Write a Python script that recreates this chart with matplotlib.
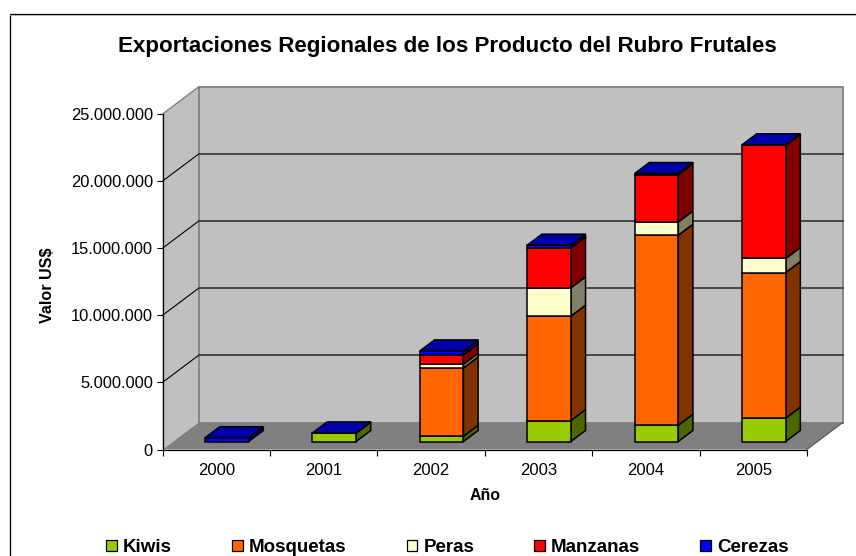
import matplotlib
matplotlib.use("Agg")
import matplotlib.pyplot as plt
from matplotlib.lines import Line2D
from matplotlib.patches import Patch
from matplotlib.ticker import FuncFormatter, MultipleLocator, FixedLocator, FixedFormatter

plt.rcParams['font.family'] = ['Liberation Sans', 'DejaVu Sans']

years = ['2000', '2001', '2002', '2003', '2004', '2005']
kiwis = [0, 620000, 400000, 1560000, 1210000, 1740000]
mosquetas = [0, 0, 5080000, 7780000, 14160000, 10850000]
peras = [0, 0, 280000, 2110000, 990000, 1050000]
manzanas = [0, 0, 690000, 2980000, 3520000, 8440000]
cerezas = [280000, 20000, 300000, 200000, 90000, 30000]
series_names = ['Kiwis', 'Mosquetas', 'Peras', 'Manzanas', 'Cerezas']
series_values = [kiwis, mosquetas, peras, manzanas, cerezas]
front_colors = ['#99CC00', '#FF6600', '#FFFFCC', '#FF0000', '#0000FF']
side_colors = ['#4C6600', '#803300', '#808066', '#800000', '#000080']
top_color = '#0000AA'
YMAX = 25000000
STEP = 5000000

W, H = 856, 556
DX = 36 / 107.4           # depth shift in category units
DY = 27 / 67.1 * STEP     # depth shift in value units
D0, D1 = 8 / 27, 19 / 27  # bar front/back depth
BAR = 0.406

fig = plt.figure(figsize=(W / 100, H / 100), dpi=100, facecolor='white')
x0, y0 = 162.5, 449.5
axw, axh = (6 + DX) * 107.4, (YMAX + DY) * 67.1 / STEP
ax = fig.add_axes([x0 / W, 1 - y0 / H, axw / W, axh / H])
ax.set_xlim(0, 6 + DX)
ax.set_ylim(0, YMAX + DY)
ax.patch.set_alpha(0)

# chart-area frame: only the left and top edges show in the picture
fig.add_artist(Line2D([9.5 / W, 9.5 / W, 1], [0, 1 - 13.5 / H, 1 - 13.5 / H],
                      transform=fig.transFigure, color='black', lw=0.9,
                      solid_joinstyle='miter'))
fig.add_artist(Line2D([9.5 / W, 1], [1 - 14.7 / H, 1 - 14.7 / H],
                      transform=fig.transFigure, color='#b0b0b0', lw=0.6))


def pr(x, y, d):
    return x + d * DX, y + d * DY


def face(pts, fc, ec='black', lw=1.1, z=3):
    xs, ys = zip(*[pr(*p) for p in pts])
    ax.fill(xs, ys, fc=fc, ec=ec, lw=lw, zorder=z, joinstyle='miter', clip_on=False)


n = len(years)
# walls and floor
face([(0, 0, 0), (0, 0, 1), (0, YMAX, 1), (0, YMAX, 0)], '#C0C0C0', ec='none', z=1)
face([(0, 0, 1), (n, 0, 1), (n, YMAX, 1), (0, YMAX, 1)], '#C0C0C0', ec='#808080', lw=1.3, z=1)
face([(0, 0, 0), (n, 0, 0), (n, 0, 1), (0, 0, 1)], '#808080', ec='none', z=1)
for v in range(STEP, YMAX, STEP):
    a, b, c = pr(0, v, 0), pr(0, v, 1), pr(n, v, 1)
    ax.plot([a[0], b[0]], [a[1], b[1]], color='black', lw=0.8, zorder=2, clip_on=False)
    ax.plot([b[0], c[0]], [b[1], c[1]], color='#333333', lw=1.2, zorder=2, clip_on=False)
a, b = pr(0, YMAX, 0), pr(0, YMAX, 1)
ax.plot([a[0], b[0]], [a[1], b[1]], color='#808080', lw=1.0, zorder=2, clip_on=False)
a, b = pr(n, 0, 0), pr(n, 0, 1)
ax.plot([a[0], b[0]], [a[1], b[1]], color='#555555', lw=0.8, zorder=2, clip_on=False)

# stacked bars
for i in range(n):
    l = i + 0.5 - BAR / 2
    r = i + 0.5 + BAR / 2
    base = 0
    for vals, fc, sc in zip(series_values, front_colors, side_colors):
        v = vals[i]
        if v <= 0:
            continue
        top = base + v
        face([(r, base, D0), (r, base, D1), (r, top, D1), (r, top, D0)], sc)
        face([(l, base, D0), (r, base, D0), (r, top, D0), (l, top, D0)], fc)
        base = top
    face([(l, base, D0), (r, base, D0), (r, base, D1), (l, base, D1)], top_color)

# axes
for s in ('top', 'right'):
    ax.spines[s].set_visible(False)
ax.spines['left'].set_bounds(0, YMAX)
ax.spines['bottom'].set_bounds(0, n)
ax.spines['left'].set_linewidth(0.9)
ax.spines['bottom'].set_linewidth(0.9)
ax.spines['left'].set_zorder(5)
ax.spines['bottom'].set_zorder(5)
ax.yaxis.set_major_locator(MultipleLocator(STEP))
ax.yaxis.set_major_formatter(FuncFormatter(lambda v, _: f"{v:,.0f}".replace(",", ".")))
ax.xaxis.set_major_locator(FixedLocator(list(range(n + 1))))
ax.xaxis.set_major_formatter(FixedFormatter([''] * (n + 1)))
ax.xaxis.set_minor_locator(FixedLocator([i + 0.5 for i in range(n)]))
ax.xaxis.set_minor_formatter(FixedFormatter(years))
ax.tick_params(axis='y', length=4, width=0.8, labelsize=11.9, pad=3)
ax.tick_params(axis='x', which='major', length=4.5, width=0.8)
ax.tick_params(axis='x', which='minor', length=0, labelsize=12, pad=10)

fig.text(447.5 / W, 1 - 46.5 / H, 'Exportaciones Regionales de los Producto del Rubro Frutales',
         ha='center', va='center', fontsize=16.1, fontweight='bold')
fig.text(485 / W, 1 - 496 / H, 'Año', ha='center', va='center', fontsize=11.4, fontweight='bold')
fig.text(48 / W, 1 - 285 / H, 'Valor US$', ha='center', va='center', rotation=90,
         fontsize=11.6, fontweight='bold')

handles = [Patch(fc=c, ec='black', lw=0.9) for c in front_colors]
fs = 13.5
fig.legend(handles, series_names, ncol=5, frameon=False, loc='center',
           bbox_to_anchor=(447.5 / W, 1 - 547.5 / H), prop={'size': fs, 'weight': 'bold'},
           handlelength=0.58, handleheight=0.53, handletextpad=0.32,
           columnspacing=60 / (fs * 100 / 72), borderpad=0, borderaxespad=0)

fig.savefig('out.png', dpi=100)
